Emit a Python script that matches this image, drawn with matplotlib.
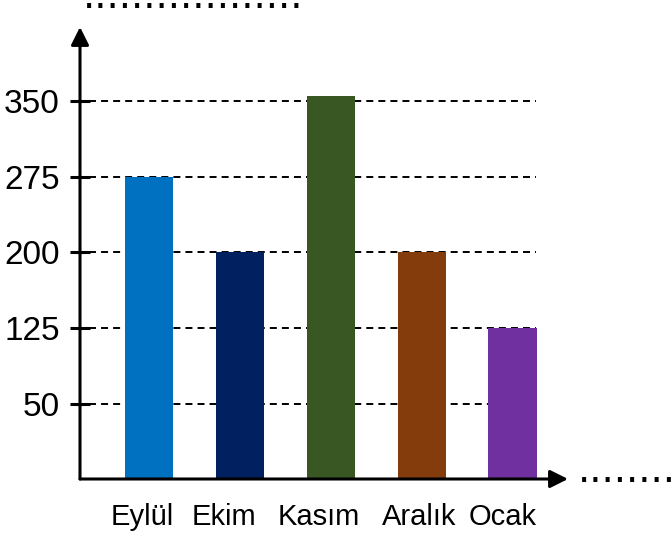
import numpy as np
import matplotlib
matplotlib.use("Agg")
import matplotlib.pyplot as plt
from matplotlib.transforms import ScaledTranslation

# chart data
months = ["Eylül", "Ekim", "Kasım", "Aralık", "Ocak"]
values = [275, 200, 355, 200, 125]
colors = ["#0070C0", "#002060", "#385723", "#843C0C", "#7030A0"]
yticks = [50, 125, 200, 275, 350]

plt.rcParams['font.family'] = ['Liberation Sans', 'DejaVu Sans']

fig = plt.figure(figsize=(6.72, 5.4), dpi=100)
ax = fig.add_axes([80 / 672, 61 / 540, 488 / 672, 452 / 540])

base = -24.3  # value at which the drawn x-axis sits
x = np.arange(len(months))
ax.bar(x, np.array(values) - base, bottom=base, width=0.53, color=colors, zorder=3)

ax.set_xlim(-0.759, 4.61)
ax.set_ylim(base, 423.3)

# dashed guide lines behind the bars
for v in yticks:
    ax.axhline(v, xmin=0.018, xmax=0.934, color='black', lw=1.4,
               ls=(0, (3.6, 2.6)), zorder=1)

for s in ax.spines.values():
    s.set_visible(False)

# axes with arrow heads
arrow = dict(arrowstyle='-|>', lw=2.2, color='black', mutation_scale=27,
             shrinkA=0, shrinkB=0)
ax.annotate('', xy=(0, 1), xytext=(0, 0), xycoords='axes fraction',
            arrowprops=arrow, zorder=5)
ax.annotate('', xy=(1, 0), xytext=(0, 0), xycoords='axes fraction',
            arrowprops=arrow, zorder=5)

ax.set_yticks(yticks)
ax.set_yticklabels([str(v) for v in yticks], fontsize=24)
ax.tick_params(axis='y', direction='inout', length=15, width=2.2, pad=7)
ax.set_xticks(x)
ax.set_xticklabels(months, fontsize=21)
ax.tick_params(axis='x', length=0, pad=17)

# the month labels sit as an evenly typed row, a little off the bar centres
label_shift = [-7, -16, -12, -3, -10]
for lab, dx in zip(ax.get_xticklabels(), label_shift):
    lab.set_transform(lab.get_transform() + ScaledTranslation(dx / 100, 0, fig.dpi_scale_trans))

# placeholder dots for axis titles
fig.text(83 / 672, 1 - 8 / 540, "." * 18, fontsize=27.5,
         ha='left', va='baseline', family='DejaVu Sans')
fig.text(578 / 672, 1 - 482 / 540, "." * 8, fontsize=27.5,
         ha='left', va='baseline', family='DejaVu Sans')

fig.savefig("out.png", dpi=100)
